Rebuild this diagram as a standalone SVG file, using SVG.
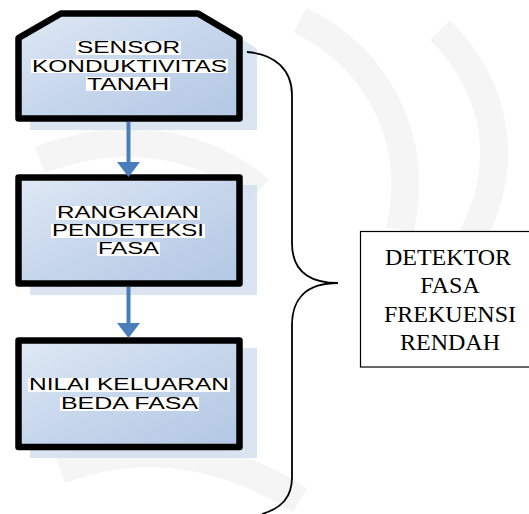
<svg xmlns="http://www.w3.org/2000/svg" width="529" height="514" viewBox="0 0 529 514">
<defs>
<linearGradient id="fillg" x1="0" y1="0" x2="1" y2="1">
<stop offset="0" stop-color="#e0e9f5"/>
<stop offset="0.5" stop-color="#c6d6ec"/>
<stop offset="1" stop-color="#b3c7e3"/>
</linearGradient>
<style>
.box{fill:url(#fillg);stroke:#000;stroke-width:6.5;stroke-linejoin:round}
.shadow{fill:#cfdcee;opacity:0.75}
.hl{fill:#fff}
.bt{font-family:"Liberation Sans",Arial,sans-serif;font-size:16px;fill:#000;text-anchor:middle}
.conn{stroke:#4a7ebb;stroke-width:4;fill:none}
.head{fill:#4a7ebb}
.brace{stroke:#000;stroke-width:1.8;fill:none}
.lbl{fill:#fff;stroke:#000;stroke-width:1.2}
.lt{font-family:"Liberation Serif","Times New Roman",serif;font-size:24px;fill:#000;text-anchor:middle}
.wm{fill:none;stroke:#f5f5f5;stroke-width:28}
</style>
</defs>
<rect width="529" height="514" fill="#fff"/>
<g id="watermark">
<path class="wm" d="M300,20 C380,60 420,140 400,230"/>
<path class="wm" d="M440,30 C500,90 510,170 470,240"/>
<path class="wm" d="M40,160 C120,130 200,140 260,190"/>
<path class="wm" d="M60,470 C140,440 220,450 300,500"/>
</g>
<g id="node-sensor">
<path class="shadow" d="M60,22 L215,22 L257,49 L257,130 L30,130 L30,49 Z"/>
<path class="box" d="M18.5,38 L61,13.5 L198,13.5 L239.5,38 L239.5,118.5 L18.5,118.5 Z"/>
<rect class="hl" x="76" y="41" width="105" height="14"/>
<rect class="hl" x="31" y="59" width="197" height="14"/>
<rect class="hl" x="86" y="77" width="84" height="14"/>
<text class="bt" x="128.5" y="53" textLength="103" lengthAdjust="spacingAndGlyphs">SENSOR</text>
<text class="bt" x="129.5" y="72" textLength="195" lengthAdjust="spacingAndGlyphs">KONDUKTIVITAS</text>
<text class="bt" x="128" y="90" textLength="82" lengthAdjust="spacingAndGlyphs">TANAH</text>
</g>
<g id="node-rangkaian">
<rect class="shadow" x="30" y="185" width="227" height="110"/>
<rect class="box" x="18.5" y="177.5" width="221" height="106"/>
<rect class="hl" x="56" y="206" width="144" height="14"/>
<rect class="hl" x="51" y="224" width="154" height="14"/>
<rect class="hl" x="97" y="242" width="63" height="14"/>
<text class="bt" x="128" y="218" textLength="142" lengthAdjust="spacingAndGlyphs">RANGKAIAN</text>
<text class="bt" x="128" y="236" textLength="152" lengthAdjust="spacingAndGlyphs">PENDETEKSI</text>
<text class="bt" x="128.5" y="254" textLength="61" lengthAdjust="spacingAndGlyphs">FASA</text>
</g>
<g id="node-nilai">
<rect class="shadow" x="30" y="348" width="227" height="110"/>
<rect class="box" x="18.5" y="340.5" width="221" height="106.5"/>
<rect class="hl" x="28" y="378" width="202" height="14"/>
<rect class="hl" x="60" y="397" width="139" height="14"/>
<text class="bt" x="129" y="390" textLength="200" lengthAdjust="spacingAndGlyphs">NILAI KELUARAN</text>
<text class="bt" x="129.5" y="409" textLength="137" lengthAdjust="spacingAndGlyphs">BEDA FASA</text>
</g>
<g id="node-detektor">
<rect class="lbl" x="360.5" y="231.5" width="170" height="135.5"/>
<text class="lt" x="448" y="265">DETEKTOR</text>
<text class="lt" x="450" y="293">FASA</text>
<text class="lt" x="450" y="322">FREKUENSI</text>
<text class="lt" x="450" y="350">RENDAH</text>
</g>
<g id="connectors">
<line class="conn" x1="128.5" y1="122" x2="128.5" y2="164"/>
<polygon class="head" points="117,162 140,162 128.5,177"/>
<line class="conn" x1="128.5" y1="287" x2="128.5" y2="325"/>
<polygon class="head" points="117,323 140,323 128.5,338"/>
<path class="brace" d="M247,52 C275,54 292,70 292,95 L292,243 C292,268 305,283 338,283 C305,283 292,300 292,325 L292,477 C292,497 282,508 262,514"/>
</g>
</svg>
